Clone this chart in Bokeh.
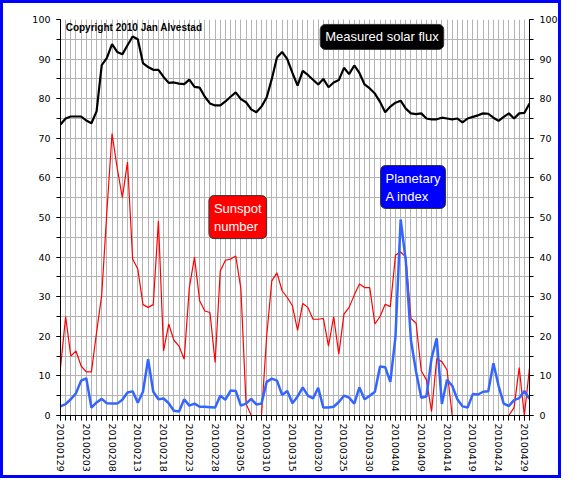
from bokeh.plotting import figure
from bokeh.models import FixedTicker, LinearAxis, Range1d, Label
from bokeh.embed import file_html
from bokeh.resources import INLINE

# ---- data (daily, 2010-01-29 .. 2010-04-30) ----
day = list(range(92))
tick_days = [0, 5, 10, 15, 20, 25, 30, 35, 40, 45, 50, 55, 60, 65, 70, 75, 80, 85, 90]
tick_labels = ["20100129", "20100203", "20100208", "20100213", "20100218", "20100223",
               "20100228", "20100305", "20100310", "20100315", "20100320", "20100325",
               "20100330", "20100404", "20100409", "20100414", "20100419", "20100424",
               "20100429"]

solar_flux = [73.5, 75.0, 75.5, 75.5, 75.5, 74.5, 73.8, 76.8, 88.5, 90.3,
              93.8, 91.8, 91.2, 93.5, 95.7, 95.0, 89.0, 88.0, 87.3, 87.3,
              85.5, 84.0, 84.1, 83.8, 83.7, 84.8, 83.0, 82.8, 80.5, 78.8,
              78.3, 78.3, 79.3, 80.5, 81.6, 79.9, 79.1, 77.3, 76.6, 78.0,
              80.3, 85.0, 90.4, 91.8, 90.0, 86.5, 83.3, 87.0, 86.0, 84.8,
              83.6, 85.0, 82.9, 84.1, 84.7, 87.8, 86.2, 88.4, 86.5, 83.6,
              82.6, 81.3, 79.2, 76.6, 78.0, 79.0, 79.5, 77.5, 76.3, 76.1,
              76.3, 75.0, 74.8, 74.8, 75.2, 75.0, 74.8, 75.0, 74.0, 75.0,
              75.4, 75.8, 76.3, 76.2, 75.2, 74.4, 75.4, 76.3, 75.0, 76.3,
              76.4, 78.8]

sunspot_number = [12.1, 25.0, 15.0, 16.3, 12.5, 11.0, 11.0, 21.0, 30.5, 51.5,
                  71.2, 62.5, 55.0, 64.0, 39.5, 37.0, 28.0, 27.3, 28.0, 49.2,
                  16.3, 23.1, 19.0, 17.5, 14.2, 32.3, 40.0, 29.0, 26.4, 26.0,
                  13.4, 36.5, 39.2, 39.5, 40.3, 32.0, 3.0, 0.0, 0.0, 0.0,
                  20.0, 34.0, 36.0, 31.5, 29.8, 27.7, 21.5, 28.3, 27.3, 24.3,
                  24.3, 24.5, 17.5, 25.0, 15.5, 25.6, 27.3, 30.4, 33.2, 32.3,
                  32.3, 23.1, 25.0, 28.1, 27.5, 40.5, 41.3, 40.0, 24.5, 23.3,
                  11.3, 9.0, 1.0, 14.3, 13.6, 11.5, 0.0, 0.0, 0.0, 0.0,
                  0.0, 0.0, 0.0, 0.0, 0.0, 0.0, 0.0, 0.0, 2.0, 12.1,
                  0.0, 12.0]

a_index = [2.3, 2.9, 4.1, 5.6, 8.8, 9.4, 2.0, 3.3, 4.2, 3.1,
           3.0, 3.0, 4.0, 5.8, 6.1, 3.2, 6.0, 14.2, 6.0, 4.1,
           4.3, 3.1, 1.2, 1.0, 4.1, 2.5, 3.0, 2.2, 2.2, 2.1,
           2.0, 5.0, 4.0, 6.3, 6.2, 2.5, 3.0, 4.2, 2.8, 3.0,
           8.5, 9.3, 8.8, 5.2, 6.2, 3.1, 4.8, 7.1, 5.0, 4.3,
           7.0, 2.0, 2.0, 2.2, 3.4, 5.0, 4.5, 3.0, 7.1, 4.1,
           5.0, 6.0, 12.4, 12.2, 8.5, 20.0, 49.5, 39.0, 19.0, 11.0,
           4.5, 4.8, 14.5, 19.5, 2.9, 9.0, 7.5, 4.1, 2.3, 2.0,
           5.4, 5.3, 6.0, 6.1, 13.2, 7.5, 3.0, 2.4, 3.9, 4.4,
           6.2, 4.2]

y_ticks = [0, 10, 20, 30, 40, 50, 60, 70, 80, 90, 100]
y_minor = [0, 5, 10, 15, 20, 25, 30, 35, 40, 45, 50, 55, 60, 65, 70, 75, 80, 85, 90, 95, 100]

FONT = "DejaVu Sans"
GRID = "#b4b4b4"

p = figure(width=561, height=478, output_backend="svg", toolbar_location=None,
           x_range=Range1d(0, 91), y_range=Range1d(0, 100),
           min_border_left=57, min_border_right=35, min_border_top=16, min_border_bottom=66,
           background_fill_color="white", border_fill_color="white")
p.outline_line_color = None
p.styles = {"border": "3px solid #0000ff"}

xt = FixedTicker(ticks=tick_days, minor_ticks=day)
yt = FixedTicker(ticks=y_ticks, minor_ticks=y_minor)

xa = p.xaxis[0]
xa.ticker = xt
xa.major_label_overrides = {d: l for d, l in zip(tick_days, tick_labels)}
xa.major_label_orientation = "vertical"
xa.major_label_text_font = FONT
xa.major_label_text_font_size = "9.5px"
xa.major_label_text_color = "black"
xa.major_label_standoff = 3
xa.major_tick_in = 0
xa.major_tick_out = 5
xa.minor_tick_in = 0
xa.minor_tick_out = 5
xa.axis_line_color = "black"
xa.major_tick_line_color = "black"
xa.minor_tick_line_color = "black"

ya = p.yaxis[0]
ya.ticker = yt
yr = LinearAxis(ticker=yt)
p.add_layout(yr, "right")
for ax in (ya, yr):
    ax.major_label_text_font = FONT
    ax.major_label_text_font_size = "9.5px"
    ax.major_label_text_color = "black"
    ax.major_label_standoff = 6
    ax.major_tick_in = 0
    ax.major_tick_out = 4
    ax.minor_tick_in = 0
    ax.minor_tick_out = 4
    ax.axis_line_color = "black"
    ax.major_tick_line_color = "black"
    ax.minor_tick_line_color = "black"

p.xgrid.ticker = xt
p.xgrid.grid_line_color = GRID
p.xgrid.minor_grid_line_color = GRID
p.ygrid.ticker = yt
p.ygrid.grid_line_color = GRID
p.ygrid.minor_grid_line_color = GRID

p.line(day, sunspot_number, line_color="#ff0000", line_width=1.2)
p.line(day, a_index, line_color="#3366ff", line_width=2.5)
p.line(day, solar_flux, line_color="black", line_width=2.2)

p.add_layout(Label(x=1, y=99.3, text="Copyright 2010 Jan Alvestad",
                   text_font="Liberation Sans", text_font_style="bold",
                   text_font_size="10px", text_color="black",
                   text_align="left", text_baseline="top"))

def box_label(x, y, text, fill):
    return Label(x=x, y=y, text=text, text_font="Liberation Sans", text_font_size="13px",
                 text_color="white", text_align="left", text_baseline="middle",
                 background_fill_color=fill, border_line_color="#333333",
                 border_line_width=1, padding=5, border_radius=5)

p.add_layout(box_label(50.4, 95.6, "Measured solar flux", "black"))
p.add_layout(box_label(28.8, 50.1, "Sunspot\nnumber", "#ff0000"))
p.add_layout(box_label(62.1, 57.7, "Planetary\nA index", "#0000ff"))

open("out.html", "w").write(file_html(p, INLINE))
